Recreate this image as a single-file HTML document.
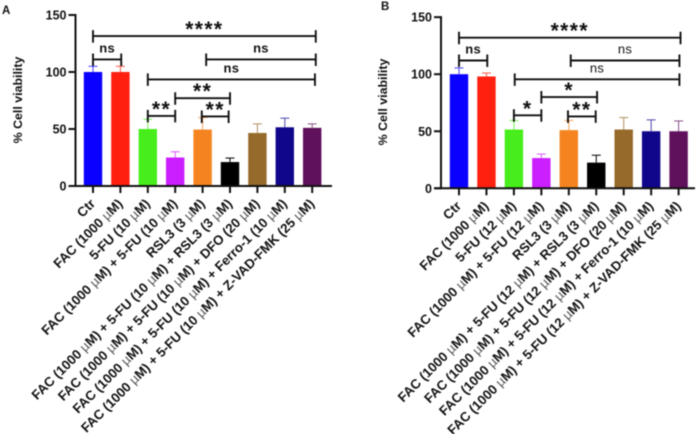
<!DOCTYPE html>
<html>
<head>
<meta charset="utf-8">
<title>Cell viability charts</title>
<style>
html,body{margin:0;padding:0;background:#fff;}
svg{display:block;font-family:"Liberation Sans",sans-serif;filter:blur(0.45px);}
text{fill:#111;}
</style>
</head>
<body>
<svg id="chart" width="700" height="434" viewBox="0 0 700 434" xmlns="http://www.w3.org/2000/svg"></svg>
<script>
const barColors = ["#0a00ff","#ff2010","#48ee1c","#cc1fff","#f58420","#000000","#966a2a","#10068c","#60115c"];
const yTicks = [0,50,100,150];
const doseA = "10";
const doseB = "12";
const valuesA = [100,100,50,25,49.5,21,46.5,51.5,51];
const errorTopsA = [105,105,58.5,30,60,24.5,54.5,59.5,54.5];
const valuesB = [100,98,51.5,26.5,51,22.5,51.5,50,50];
const errorTopsB = [105.5,101,59.5,30,59.5,29,62,60,59];
const bracketStartsA = [0,0,4.13,2,3,2,3.97];
const bracketEndsA = [8.13,1.03,8.13,8.1,5,3,4.95];
const bracketLevelsA = [131.5,111,111,93.5,77,61.5,61];
const bracketLabelsA = ["****","ns","ns","ns","**","**","**"];
const bracketStartsB = [0,0,4.07,2.03,3,2,3.97];
const bracketEndsB = [8.07,1.03,8.03,8.03,5.03,3,4.98];
const bracketLevelsB = [132,112,112,95.5,80,64,63];
const bracketLabelsB = ["****","ns","ns","ns","*","*","**"];

const NS = "http://www.w3.org/2000/svg";
const root = document.getElementById("chart");

function labelParts(dose){
  const f = "FAC (1000 |M)";
  const u = "5-FU (" + dose + " |M)";
  return ["Ctr", f, u, f + " + " + u, "RSL3 (3 |M)",
    f + " + " + u + " + RSL3 (3 |M)",
    f + " + " + u + " + DFO (20 |M)",
    f + " + " + u + " + Ferro-1 (10 |M)",
    f + " + " + u + " + Z-VAD-FMK (25 |M)"];
}
function make(parent, tag, attrs){
  const el = document.createElementNS(NS, tag);
  for (const k in attrs) el.setAttribute(k, attrs[k]);
  parent.appendChild(el);
  return el;
}
function drawPanel(cfg){
  const g = make(root, "g", {});
  
  
  const xScale = i => cfg.x0 + i * cfg.step;
  const yScale = v => cfg.y0 - v * cfg.pxPerUnit;

  const letter = make(g, "text", {x:cfg.letterX, y:cfg.letterY, "font-size":11.5, "font-weight":"bold"});
  letter.textContent = cfg.letter;
  
  

  const title = make(g, "text", {transform:"translate("+cfg.titleX+","+cfg.titleY+") rotate(-90)", "text-anchor":"middle", "font-size":12.4, "font-weight":"bold"});
  title.textContent = "% Cell viability";
  
  

  cfg.values.forEach((v, i) => {
    const cx = xScale(i);
    const err = make(g, "g", {stroke:barColors[i], "stroke-width":1, opacity:i === 5 ? 1 : 0.75});
    
    
    make(err, "line", {x1:cx, x2:cx, y1:yScale(v), y2:yScale(cfg.tops[i])});
    make(err, "line", {x1:cx-4.5, x2:cx+4.5, y1:yScale(cfg.tops[i]), y2:yScale(cfg.tops[i])});
    const bar = make(g, "rect", {x:cx-9.2, y:yScale(v), width:18.4, height:cfg.y0-yScale(v), fill:barColors[i]});
    
    
  });

  const yAxis = make(g, "line", {x1:cfg.axisX, x2:cfg.axisX, y1:yScale(150)-1, y2:cfg.y0+1, stroke:"#111", "stroke-width":2});
  
  
  const xAxis = make(g, "line", {x1:cfg.axisX-7, x2:cfg.axisEnd, y1:cfg.y0, y2:cfg.y0, stroke:"#111", "stroke-width":2});
  
  

  yTicks.forEach(t => {
    const tick = make(g, "line", {x1:cfg.axisX-7, x2:cfg.axisX, y1:yScale(t), y2:yScale(t), stroke:"#111", "stroke-width":2});
    
    
    const lab = make(g, "text", {x:cfg.axisX-9, y:yScale(t)+4.5, "text-anchor":"end", "font-size":12.5, "font-weight":"bold"});
    lab.textContent = t;
    
    
  });

  cfg.labels.forEach((s, i) => {
    const cx = xScale(i);
    const tick = make(g, "line", {x1:cx, x2:cx, y1:cfg.y0, y2:cfg.y0+7, stroke:"#111", "stroke-width":2});
    
    
    const lab = make(g, "text", {transform:"translate("+(cx+3)+","+(cfg.y0+18.5)+") rotate(-45)", "text-anchor":"end", "font-size":13.3, "font-weight":"bold"});
    
    
    s.split("|").forEach((part, j) => {
      if (j > 0) {
        const mu = make(lab, "tspan", {"font-weight":"normal", fill:"#555"});
        mu.textContent = "\u00b5";
      }
      const t = make(lab, "tspan", {});
      t.textContent = part;
    });
  });

  cfg.bracketLabels.forEach((txt, i) => {
    const x1 = xScale(cfg.bracketStarts[i]);
    const x2 = xScale(cfg.bracketEnds[i]);
    const y = yScale(cfg.bracketLevels[i]);
    const b = make(g, "path", {d:"M"+x1+" "+(y-6)+"V"+(y+6.5)+"M"+x1+" "+y+"H"+x2+"M"+x2+" "+(y-6)+"V"+(y+6.5), fill:"none", stroke:"#111", "stroke-width":1.9});
    
    
    const isNs = txt === "ns";
    const lab = make(g, "text", {x:(x1+x2)/2, y:isNs ? y-7 : y, "text-anchor":"middle",
      "font-size":isNs ? 13 : 21, "font-weight":(isNs && i > 1 && cfg.letter === "B") ? "normal" : "bold",
      "letter-spacing":isNs ? 0.3 : 1.4});
    lab.textContent = txt;
    
    
  });
}

drawPanel({letter:"A", letterX:2, letterY:14, titleX:22, titleY:100, x0:93, step:27.4, y0:186, pxPerUnit:1.14, axisX:75.5, axisEnd:332,
  values:valuesA, tops:errorTopsA, labels:labelParts(doseA), bracketStarts:bracketStartsA, bracketEnds:bracketEndsA, bracketLevels:bracketLevelsA, bracketLabels:bracketLabelsA});
drawPanel({letter:"B", letterX:381, letterY:10, titleX:387, titleY:102, x0:459, step:27.45, y0:188.3, pxPerUnit:1.141, axisX:441, axisEnd:695,
  values:valuesB, tops:errorTopsB, labels:labelParts(doseB), bracketStarts:bracketStartsB, bracketEnds:bracketEndsB, bracketLevels:bracketLevelsB, bracketLabels:bracketLabelsB});
</script>
</body>
</html>
